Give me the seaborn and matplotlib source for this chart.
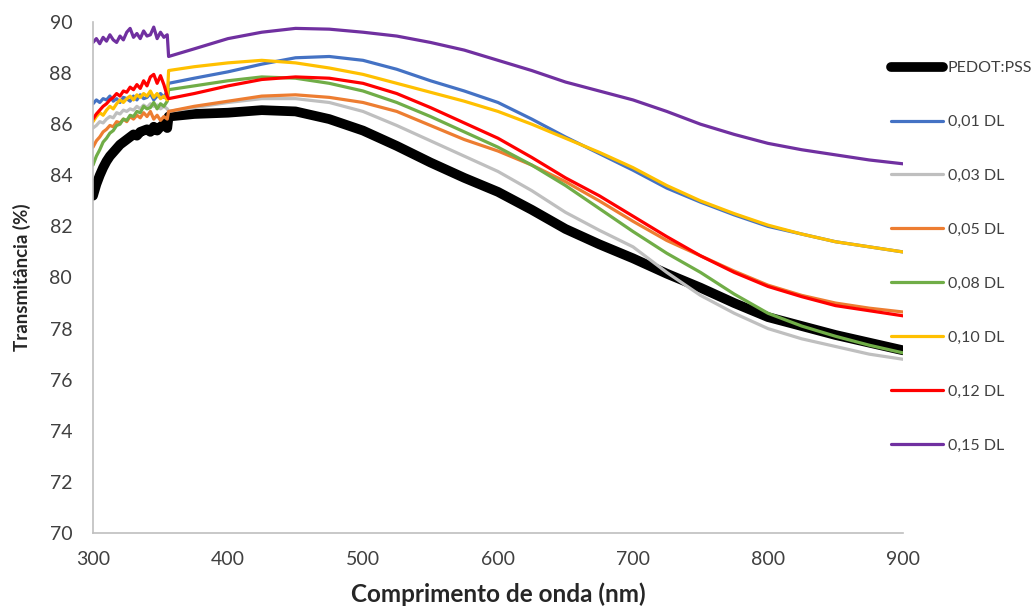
import numpy as np
import pandas as pd
import matplotlib
matplotlib.use("Agg")
import matplotlib.pyplot as plt
import seaborn as sns

# wavelengths (nm): noisy start, jump at 355 nm, then smooth part
wl = [300, 302.5, 305, 307.5, 310, 312.5, 315, 317.5, 320, 322.5, 325, 327.5,
      330, 332.5, 335, 337.5, 340, 342.5, 345, 347.5, 350, 352.5, 355,
      356, 375, 400, 425, 450, 475, 500, 525, 550, 575, 600, 625, 650, 675,
      700, 725, 750, 775, 800, 825, 850, 875, 900]

pedot = [83.2, 83.65, 84.0, 84.3, 84.55, 84.75, 84.9, 85.05, 85.2, 85.3, 85.4, 85.5,
         85.6, 85.55, 85.7, 85.75, 85.8, 85.7, 85.9, 85.75, 85.9, 86.0, 85.85,
         86.3, 86.4, 86.45, 86.55, 86.5, 86.2, 85.75, 85.15, 84.5, 83.9, 83.35, 82.65, 81.9, 81.3,
         80.75, 80.15, 79.6, 79.0, 78.45, 78.1, 77.75, 77.45, 77.15]
dl_001 = [86.8, 86.95, 86.85, 87.0, 86.95, 87.1, 86.9, 87.0, 86.85, 87.05, 87.0, 86.9,
          87.1, 86.95, 87.15, 87.0, 87.05, 87.2, 86.95, 87.1, 87.2, 87.05, 87.3,
          87.6, 87.8, 88.05, 88.35, 88.6, 88.65, 88.5, 88.15, 87.7, 87.3, 86.85, 86.2, 85.5, 84.85,
          84.2, 83.5, 82.95, 82.45, 82.0, 81.7, 81.4, 81.2, 81.0]
dl_003 = [85.85, 85.95, 86.1, 86.05, 86.2, 86.3, 86.25, 86.45, 86.4, 86.55, 86.5, 86.6,
          86.55, 86.7, 86.6, 86.75, 86.65, 86.8, 86.7, 86.75, 86.6, 86.7, 86.6,
          86.5, 86.65, 86.85, 87.0, 87.0, 86.85, 86.5, 85.95, 85.35, 84.75, 84.15, 83.4, 82.55, 81.85,
          81.2, 80.2, 79.3, 78.6, 78.0, 77.6, 77.3, 77.0, 76.8]
dl_005 = [85.1, 85.35, 85.5, 85.7, 85.8, 85.95, 85.9, 86.1, 86.05, 86.2, 86.1, 86.3,
          86.2, 86.35, 86.25, 86.45, 86.3, 86.5, 86.2, 86.35, 86.15, 86.3, 86.2,
          86.5, 86.7, 86.9, 87.1, 87.15, 87.05, 86.85, 86.5, 85.95, 85.4, 84.95, 84.4, 83.75, 83.0,
          82.2, 81.45, 80.85, 80.25, 79.7, 79.3, 79.0, 78.8, 78.65]
dl_008 = [84.4, 84.75, 85.0, 85.3, 85.45, 85.65, 85.75, 85.95, 86.0, 86.2, 86.15, 86.35,
          86.3, 86.5, 86.45, 86.7, 86.6, 86.65, 86.85, 86.6, 86.8, 86.7, 86.9,
          87.35, 87.5, 87.7, 87.85, 87.8, 87.6, 87.3, 86.85, 86.3, 85.7, 85.1, 84.4, 83.6, 82.7,
          81.8, 80.95, 80.2, 79.35, 78.6, 78.1, 77.7, 77.35, 77.05]
dl_010 = [86.1, 86.3, 86.45, 86.35, 86.55, 86.7, 86.6, 86.8, 86.95, 86.85, 87.0, 87.1,
          86.95, 87.15, 87.05, 87.2, 87.1, 87.3, 87.05, 87.2, 87.0, 87.1, 86.95,
          88.1, 88.25, 88.4, 88.5, 88.4, 88.2, 87.95, 87.6, 87.25, 86.9, 86.5, 86.0, 85.45, 84.9,
          84.3, 83.6, 83.0, 82.5, 82.05, 81.7, 81.4, 81.2, 81.0]
dl_012 = [86.2, 86.4, 86.55, 86.7, 86.8, 86.95, 87.05, 87.2, 87.1, 87.3, 87.25, 87.45,
          87.35, 87.55, 87.4, 87.7, 87.5, 87.85, 87.95, 87.6, 87.9, 87.55, 87.1,
          87.0, 87.2, 87.5, 87.75, 87.85, 87.8, 87.6, 87.2, 86.65, 86.05, 85.45, 84.7, 83.9, 83.2,
          82.4, 81.6, 80.85, 80.2, 79.65, 79.25, 78.9, 78.7, 78.5]
dl_015 = [89.2, 89.35, 89.15, 89.4, 89.25, 89.5, 89.3, 89.2, 89.45, 89.3, 89.6, 89.75,
          89.4, 89.55, 89.35, 89.65, 89.45, 89.5, 89.8, 89.35, 89.6, 89.4, 89.5,
          88.65, 88.95, 89.35, 89.6, 89.75, 89.72, 89.6, 89.45, 89.2, 88.9, 88.5, 88.1, 87.65, 87.3,
          86.95, 86.5, 86.0, 85.6, 85.25, 85.0, 84.8, 84.6, 84.45]

labels = ["PEDOT:PSS", "0,01 DL", "0,03 DL", "0,05 DL", "0,08 DL", "0,10 DL", "0,12 DL", "0,15 DL"]
series = [pedot, dl_001, dl_003, dl_005, dl_008, dl_010, dl_012, dl_015]
colors = ["#000000", "#4472C4", "#BFBFBF", "#ED7D31", "#70AD47", "#FFC000", "#FF0000", "#7030A0"]
widths = [7.0, 2.3, 2.3, 2.3, 2.3, 2.3, 2.3, 2.3]

sns.set_style("white")
plt.rcParams['font.family'] = ['Lato', 'DejaVu Sans']

fig = plt.figure(figsize=(10.36, 6.13), dpi=100)
ax = fig.add_axes([93 / 1036, 1 - 533 / 613, 810 / 1036, 511 / 613])

for lab, vals, col, lw in zip(labels, series, colors, widths):
    sns.lineplot(x=wl, y=vals, color=col, linewidth=lw, label=lab, ax=ax,
                 estimator=None, sort=False, solid_capstyle='round')

ax.set_xlim(300, 900)
ax.set_ylim(70, 90)
ax.set_xticks(range(300, 901, 100))
ax.set_yticks(range(70, 91, 2))
ax.tick_params(axis='both', length=0, labelsize=14, colors='#404040')
ax.tick_params(axis='x', pad=13)
ax.tick_params(axis='y', pad=15)
for s in ['top', 'right']:
    ax.spines[s].set_visible(False)
for s in ['left', 'bottom']:
    ax.spines[s].set_color('#BFBFBF')
    ax.spines[s].set_linewidth(1.2)

ax.set_xlabel("Comprimento de onda (nm)", fontsize=17.5, fontweight='bold', labelpad=10)
ax.set_ylabel("Transmitância (%)", fontsize=13.5, fontweight='bold', labelpad=13)

ax.legend(loc='upper left', bbox_to_anchor=(891 / 1036, 1 - 61 / 613),
          bbox_transform=fig.transFigure, frameon=False, fontsize=11.5,
          labelspacing=2.49, handlelength=3.25, handletextpad=0.3,
          borderaxespad=0, borderpad=0, labelcolor='#404040')

fig.savefig("out.png", dpi=100)
